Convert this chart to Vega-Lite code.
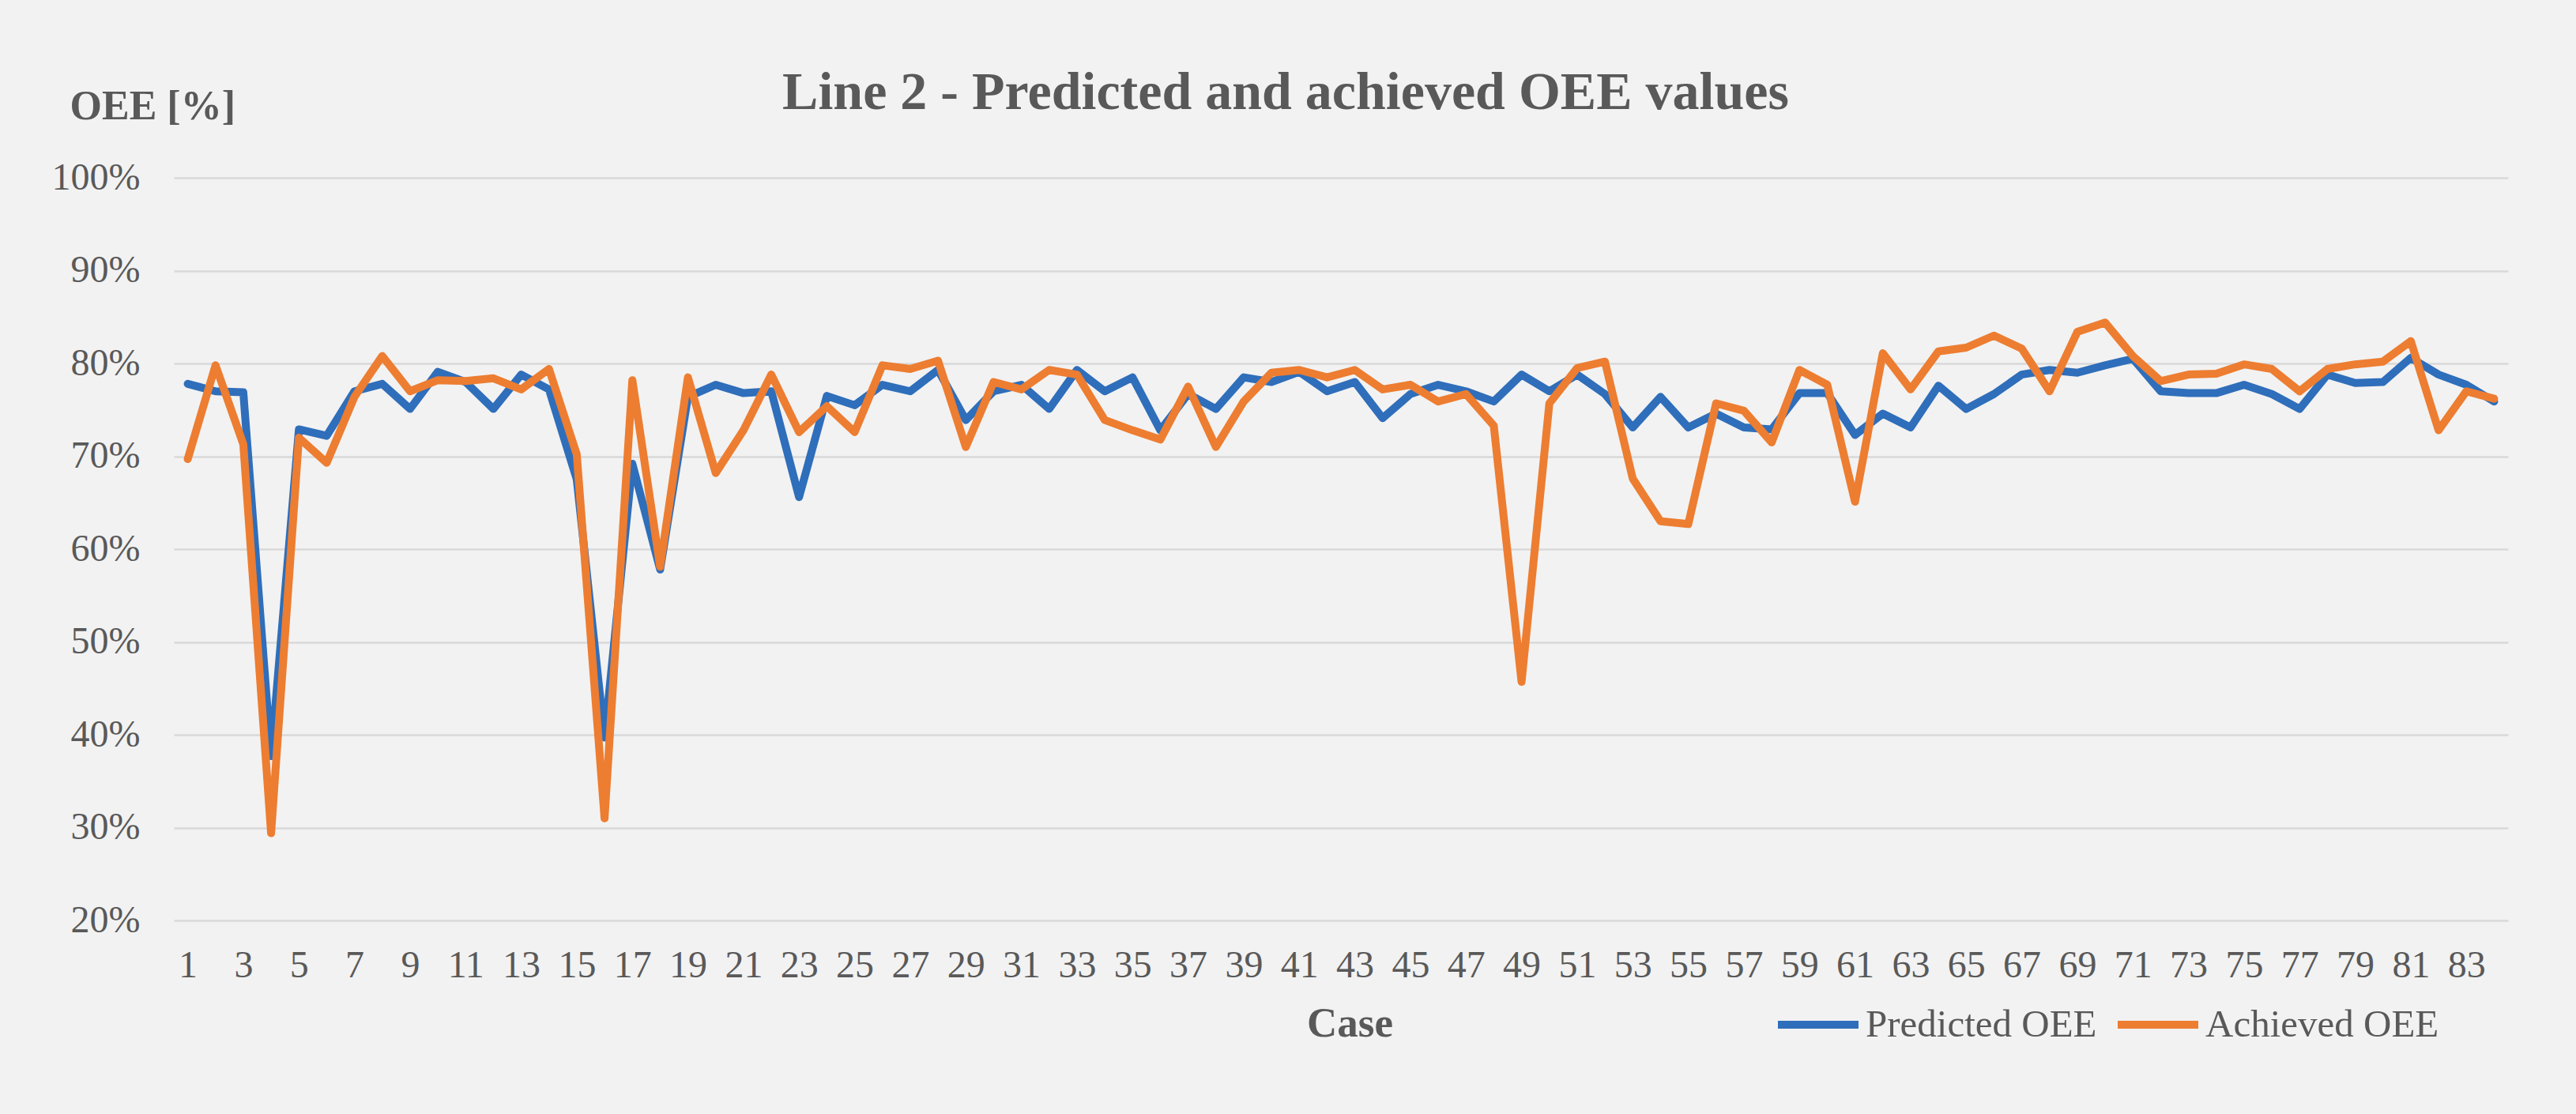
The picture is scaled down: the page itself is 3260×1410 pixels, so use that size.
{
  "$schema": "https://vega.github.io/schema/vega-lite/v6.json",
  "autosize": {"type": "none"},
  "width": 2954,
  "height": 940,
  "padding": {"left": 220, "top": 225, "right": 86, "bottom": 245},
  "background": "#f2f2f2",
  "title": {
    "text": "Line 2 - Predicted and achieved OEE values",
    "font": "Liberation Serif",
    "fontSize": 68,
    "fontWeight": "bold",
    "color": "#595959",
    "anchor": "middle",
    "baseline": "alphabetic",
    "offset": 0,
    "dy": 98,
    "dx": -70
  },
  "data": {
    "values": [
      {"case": 1, "Predicted OEE": 77.8, "Achieved OEE": 69.7},
      {"case": 2, "Predicted OEE": 77.0, "Achieved OEE": 79.8},
      {"case": 3, "Predicted OEE": 76.9, "Achieved OEE": 71.3},
      {"case": 4, "Predicted OEE": 37.7, "Achieved OEE": 29.4},
      {"case": 5, "Predicted OEE": 72.9, "Achieved OEE": 72.0},
      {"case": 6, "Predicted OEE": 72.2, "Achieved OEE": 69.3},
      {"case": 7, "Predicted OEE": 77.0, "Achieved OEE": 76.4},
      {"case": 8, "Predicted OEE": 77.8, "Achieved OEE": 80.8},
      {"case": 9, "Predicted OEE": 75.1, "Achieved OEE": 77.0},
      {"case": 10, "Predicted OEE": 79.1, "Achieved OEE": 78.2},
      {"case": 11, "Predicted OEE": 78.0, "Achieved OEE": 78.1},
      {"case": 12, "Predicted OEE": 75.1, "Achieved OEE": 78.4},
      {"case": 13, "Predicted OEE": 78.8, "Achieved OEE": 77.2},
      {"case": 14, "Predicted OEE": 77.2, "Achieved OEE": 79.4},
      {"case": 15, "Predicted OEE": 67.5, "Achieved OEE": 70.2},
      {"case": 16, "Predicted OEE": 39.7, "Achieved OEE": 31.0},
      {"case": 17, "Predicted OEE": 69.2, "Achieved OEE": 78.2},
      {"case": 18, "Predicted OEE": 57.8, "Achieved OEE": 58.1},
      {"case": 19, "Predicted OEE": 76.4, "Achieved OEE": 78.5},
      {"case": 20, "Predicted OEE": 77.7, "Achieved OEE": 68.2},
      {"case": 21, "Predicted OEE": 76.8, "Achieved OEE": 72.8},
      {"case": 22, "Predicted OEE": 77.0, "Achieved OEE": 78.8},
      {"case": 23, "Predicted OEE": 65.6, "Achieved OEE": 72.6},
      {"case": 24, "Predicted OEE": 76.5, "Achieved OEE": 75.4},
      {"case": 25, "Predicted OEE": 75.5, "Achieved OEE": 72.6},
      {"case": 26, "Predicted OEE": 77.7, "Achieved OEE": 79.8},
      {"case": 27, "Predicted OEE": 77.0, "Achieved OEE": 79.4},
      {"case": 28, "Predicted OEE": 79.3, "Achieved OEE": 80.3},
      {"case": 29, "Predicted OEE": 73.9, "Achieved OEE": 71.0},
      {"case": 30, "Predicted OEE": 77.0, "Achieved OEE": 78.0},
      {"case": 31, "Predicted OEE": 77.7, "Achieved OEE": 77.2},
      {"case": 32, "Predicted OEE": 75.1, "Achieved OEE": 79.3},
      {"case": 33, "Predicted OEE": 79.3, "Achieved OEE": 78.8},
      {"case": 34, "Predicted OEE": 77.0, "Achieved OEE": 73.9},
      {"case": 35, "Predicted OEE": 78.5, "Achieved OEE": 72.8},
      {"case": 36, "Predicted OEE": 72.8, "Achieved OEE": 71.8},
      {"case": 37, "Predicted OEE": 76.7, "Achieved OEE": 77.5},
      {"case": 38, "Predicted OEE": 75.1, "Achieved OEE": 71.0},
      {"case": 39, "Predicted OEE": 78.5, "Achieved OEE": 75.9},
      {"case": 40, "Predicted OEE": 78.0, "Achieved OEE": 79.0},
      {"case": 41, "Predicted OEE": 79.1, "Achieved OEE": 79.3},
      {"case": 42, "Predicted OEE": 77.0, "Achieved OEE": 78.5},
      {"case": 43, "Predicted OEE": 78.0, "Achieved OEE": 79.3},
      {"case": 44, "Predicted OEE": 74.1, "Achieved OEE": 77.2},
      {"case": 45, "Predicted OEE": 76.7, "Achieved OEE": 77.7},
      {"case": 46, "Predicted OEE": 77.7, "Achieved OEE": 75.9},
      {"case": 47, "Predicted OEE": 77.0, "Achieved OEE": 76.7},
      {"case": 48, "Predicted OEE": 75.9, "Achieved OEE": 73.3},
      {"case": 49, "Predicted OEE": 78.8, "Achieved OEE": 45.7},
      {"case": 50, "Predicted OEE": 77.0, "Achieved OEE": 75.7},
      {"case": 51, "Predicted OEE": 78.8, "Achieved OEE": 79.5},
      {"case": 52, "Predicted OEE": 76.7, "Achieved OEE": 80.2},
      {"case": 53, "Predicted OEE": 73.1, "Achieved OEE": 67.6},
      {"case": 54, "Predicted OEE": 76.4, "Achieved OEE": 63.0},
      {"case": 55, "Predicted OEE": 73.1, "Achieved OEE": 62.7},
      {"case": 56, "Predicted OEE": 74.6, "Achieved OEE": 75.7},
      {"case": 57, "Predicted OEE": 73.1, "Achieved OEE": 74.9},
      {"case": 58, "Predicted OEE": 72.9, "Achieved OEE": 71.5},
      {"case": 59, "Predicted OEE": 76.8, "Achieved OEE": 79.3},
      {"case": 60, "Predicted OEE": 76.8, "Achieved OEE": 77.7},
      {"case": 61, "Predicted OEE": 72.3, "Achieved OEE": 65.1},
      {"case": 62, "Predicted OEE": 74.6, "Achieved OEE": 81.1},
      {"case": 63, "Predicted OEE": 73.1, "Achieved OEE": 77.2},
      {"case": 64, "Predicted OEE": 77.6, "Achieved OEE": 81.3},
      {"case": 65, "Predicted OEE": 75.1, "Achieved OEE": 81.7},
      {"case": 66, "Predicted OEE": 76.7, "Achieved OEE": 83.0},
      {"case": 67, "Predicted OEE": 78.8, "Achieved OEE": 81.6},
      {"case": 68, "Predicted OEE": 79.3, "Achieved OEE": 77.0},
      {"case": 69, "Predicted OEE": 79.0, "Achieved OEE": 83.4},
      {"case": 70, "Predicted OEE": 79.8, "Achieved OEE": 84.4},
      {"case": 71, "Predicted OEE": 80.5, "Achieved OEE": 80.8},
      {"case": 72, "Predicted OEE": 77.0, "Achieved OEE": 78.1},
      {"case": 73, "Predicted OEE": 76.8, "Achieved OEE": 78.8},
      {"case": 74, "Predicted OEE": 76.8, "Achieved OEE": 78.9},
      {"case": 75, "Predicted OEE": 77.7, "Achieved OEE": 79.9},
      {"case": 76, "Predicted OEE": 76.7, "Achieved OEE": 79.4},
      {"case": 77, "Predicted OEE": 75.1, "Achieved OEE": 77.0},
      {"case": 78, "Predicted OEE": 78.8, "Achieved OEE": 79.4},
      {"case": 79, "Predicted OEE": 77.9, "Achieved OEE": 79.9},
      {"case": 80, "Predicted OEE": 78.0, "Achieved OEE": 80.2},
      {"case": 81, "Predicted OEE": 80.6, "Achieved OEE": 82.4},
      {"case": 82, "Predicted OEE": 78.8, "Achieved OEE": 72.8},
      {"case": 83, "Predicted OEE": 77.7, "Achieved OEE": 77.0},
      {"case": 84, "Predicted OEE": 75.9, "Achieved OEE": 76.2}
    ]
  },
  "transform": [
    {"fold": ["Predicted OEE", "Achieved OEE"], "as": ["series", "oee"]}
  ],
  "mark": {"type": "line", "strokeWidth": 10, "strokeJoin": "round", "strokeCap": "round"},
  "encoding": {
    "x": {
      "field": "case",
      "type": "quantitative",
      "scale": {"domain": [0.5, 84.5], "nice": false, "zero": false},
      "axis": {
        "title": "Case",
        "values": [1,3,5,7,9,11,13,15,17,19,21,23,25,27,29,31,33,35,37,39,41,43,45,47,49,51,53,55,57,59,61,63,65,67,69,71,73,75,77,79,81,83],
        "grid": false,
        "domain": false,
        "ticks": false,
        "labelFont": "Liberation Serif",
        "labelFontSize": 48,
        "labelColor": "#595959",
        "labelPadding": 33,
        "labelFlush": false,
        "labelOverlap": false,
        "titleFont": "Liberation Serif",
        "titleFontSize": 53,
        "titleFontWeight": "bold",
        "titleColor": "#595959",
        "titleX": 1488,
        "titleY": 146,
        "titleBaseline": "alphabetic",
        "titleAnchor": "middle",
        "titleAlign": "center"
      }
    },
    "y": {
      "field": "oee",
      "type": "quantitative",
      "scale": {"domain": [20, 100], "nice": false, "zero": false},
      "axis": {
        "title": "OEE [%]",
        "values": [20,30,40,50,60,70,80,90,100],
        "labelExpr": "datum.value + '%'",
        "grid": true,
        "gridColor": "#d9d9d9",
        "gridWidth": 2.5,
        "domain": false,
        "ticks": false,
        "labelFont": "Liberation Serif",
        "labelFontSize": 48,
        "labelColor": "#595959",
        "labelPadding": 43,
        "titleFont": "Liberation Serif",
        "titleFontSize": 52,
        "titleFontWeight": "bold",
        "titleColor": "#595959",
        "titleAngle": 0,
        "titleX": -132,
        "titleY": -75,
        "titleAlign": "left",
        "titleBaseline": "alphabetic"
      }
    },
    "color": {
      "field": "series",
      "type": "nominal",
      "sort": ["Predicted OEE", "Achieved OEE"],
      "scale": {"domain": ["Predicted OEE", "Achieved OEE"], "range": ["#2f6eba", "#ED7D31"]},
      "legend": {
        "title": null,
        "orient": "none",
        "legendX": 2025,
        "legendY": 1016,
        "direction": "horizontal",
        "symbolType": "stroke",
        "symbolSize": 10404,
        "symbolStrokeWidth": 10,
        "labelFont": "Liberation Serif",
        "labelFontSize": 49,
        "labelColor": "#595959",
        "labelOffset": 4,
        "labelLimit": 0,
        "columnPadding": 6,
        "padding": 0
      }
    },
    "order": {"field": "case", "type": "quantitative"}
  },
  "config": {
    "view": {"stroke": null}
  }
}
